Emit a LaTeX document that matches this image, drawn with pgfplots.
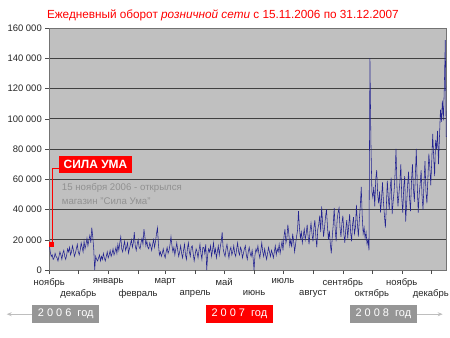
\documentclass[border=0pt]{standalone}
\usepackage{pgfplots}
\pgfplotsset{compat=1.18}
\usepackage{pgfplotstable}
\usepackage{fontspec}
\setmainfont{Liberation Sans}
\usetikzlibrary{arrows.meta}
\definecolor{bgray}{RGB}{192,192,192}
\definecolor{navy}{RGB}{35,35,145}
\definecolor{yeargray}{RGB}{150,150,150}
\definecolor{notegray}{RGB}{145,145,145}
\definecolor{arrowgray}{RGB}{190,190,190}

% daily turnover, thousands, from 15.11.2006 (row 0) to 31.12.2007 (row 411)
\pgfplotstableread[row sep=\\, header=false]{
17\\12\\9\\10\\7\\8\\11\\
9\\8\\6\\9\\12\\10\\7\\
11\\13\\9\\7\\10\\14\\12\\
15\\10\\12\\16\\13\\9\\11\\
14\\17\\12\\10\\13\\18\\15\\
12\\19\\14\\17\\21\\16\\20\\
23\\18\\28\\22\\14\\0\\
9\\7\\6\\8\\10\\6\\9\\
7\\11\\8\\6\\9\\12\\8\\
10\\13\\9\\11\\14\\10\\12\\
15\\11\\17\\13\\18\\22\\14\\
12\\16\\19\\13\\15\\18\\11\\
14\\17\\20\\15\\18\\25\\16\\
13\\17\\20\\15\\14\\18\\21\\
17\\27\\22\\16\\19\\15\\14\\
18\\16\\13\\17\\20\\15\\19\\
24\\28\\17\\10\\12\\9\\11\\
14\\10\\8\\12\\15\\11\\13\\
17\\22\\16\\12\\15\\10\\14\\
18\\13\\9\\12\\16\\11\\8\\
13\\17\\10\\7\\14\\18\\12\\
9\\15\\16\\11\\6\\10\\14\\
12\\8\\13\\17\\11\\7\\15\\
15\\11\\17\\0\\10\\14\\12\\
16\\9\\13\\18\\11\\14\\8\\
12\\16\\10\\15\\19\\25\\14\\
11\\9\\14\\17\\12\\8\\13\\
15\\10\\12\\16\\11\\9\\14\\
18\\12\\10\\15\\13\\8\\11\\
14\\16\\10\\7\\12\\15\\11\\
9\\13\\8\\0\\10\\14\\12\\
16\\11\\8\\13\\18\\12\\9\\
14\\10\\7\\11\\15\\12\\9\\
13\\11\\8\\12\\16\\10\\14\\
12\\17\\11\\15\\19\\13\\22\\
27\\18\\21\\30\\24\\16\\20\\
15\\24\\19\\12\\17\\22\\26\\
39\\28\\21\\25\\18\\23\\27\\
20\\24\\30\\22\\17\\26\\31\\
24\\19\\28\\33\\22\\15\\27\\
30\\36\\25\\42\\31\\22\\28\\
35\\40\\29\\20\\26\\17\\11\\
22\\30\\41\\27\\19\\33\\38\\
41\\28\\22\\31\\36\\24\\18\\
27\\33\\21\\29\\37\\25\\19\\
30\\35\\24\\28\\43\\31\\22\\
33\\42\\55\\36\\24\\28\\21\\
25\\17\\20\\13\\
140\\85\\52\\
48\\55\\42\\60\\66\\50\\44\\
52\\38\\47\\58\\45\\36\\28\\
42\\59\\48\\40\\54\\61\\37\\
45\\52\\63\\80\\55\\42\\50\\
58\\70\\47\\38\\55\\62\\32\\
44\\56\\65\\48\\39\\58\\70\\
54\\45\\62\\80\\56\\38\\50\\
57\\66\\48\\40\\58\\72\\52\\
44\\60\\77\\68\\56\\72\\90\\
75\\62\\86\\80\\92\\70\\88\\
106\\98\\112\\99\\120\\152\\88\\
}\sales

\begin{document}
\begin{tikzpicture}[x=1bp,y=1bp]
\useasboundingbox (0,0) rectangle (450,337);
\begin{axis}[at={(49.3bp,67bp)}, anchor=south west, scale only axis,
  width=397.4bp, height=242bp,
  xmin=0, xmax=411.5, ymin=0, ymax=160,
  axis background/.style={fill=bgray},
  axis line style={black!55, line width=0.6bp},
  ytick={0,20,...,160},
  yticklabels={0,20 000,40 000,60 000,80 000,100 000,120 000,140 000,160 000},
  ymajorgrids, grid style={black!75, line width=0.9bp},
  tick align=outside, ytick pos=left, xtick pos=bottom,
  major tick length=4bp,
  tick style={black!70, line width=0.5bp},
  yticklabel style={font=\fontsize{9.5}{10}\selectfont, text=black!85},
  xtick={0,61,120,181,242,304,365},
  xticklabels={ноябрь,январь,март,май,июль,сентябрь,ноябрь},
  extra x ticks={30,92,151,212,273,334,395},
  extra x tick labels={декабрь,февраль,апрель,июнь,август,октябрь,декабрь},
  extra x tick style={grid=none, xticklabel style={yshift=-11.5bp}},
  xticklabel style={font=\fontsize{9.5}{10}\selectfont, text=black!85, yshift=-1bp},
  clip mode=individual,
  /pgf/number format/assume math mode=true,
]
\addplot[navy, line width=0.55bp] table[x expr=\coordindex, y index=0] {\sales};
\addplot[only marks, mark=square*, mark size=2bp, red] coordinates {(1.5,17)};
\end{axis}
% callout
\draw[red, line width=0.8bp] (52.7,92.7) -- (52.7,168.7) -- (59.3,168.7);
\node[fill=red, text=white, font=\bfseries\fontsize{12}{13}\selectfont,
  minimum width=72.4bp, minimum height=17.3bp, inner sep=0pt] at (95.5,172.3) {СИЛА УМА};
\node[anchor=west, text=notegray, font=\fontsize{9.7}{10}\selectfont, inner sep=0pt]
  at (61.7,148.7) {15 ноября 2006 - открылся};
\node[anchor=west, text=notegray, font=\fontsize{9.7}{10}\selectfont, inner sep=0pt]
  at (61.7,136) {магазин "Сила Ума"};
% title
\node[text=red, font=\fontsize{11.8}{13}\selectfont] at (222.9,322)
  {Ежедневный оборот \textit{розничной сети} с 15.11.2006 по 31.12.2007};
% years
\draw[arrowgray, line width=0.8bp, -{Stealth[length=5bp,width=4bp]}] (32.3,22.8) -- (6.7,22.8);
\draw[arrowgray, line width=0.8bp, -{Stealth[length=5bp,width=4bp]}] (416.7,22.8) -- (442.7,22.8);
\node[fill=yeargray, text=white, minimum width=66.7bp, minimum height=18.3bp, inner sep=0pt,
  font=\fontsize{11}{12}\selectfont] at (65.7,22.8) {2 0 0 6 \ год};
\node[fill=red, text=white, minimum width=66.7bp, minimum height=18.3bp, inner sep=0pt,
  font=\fontsize{11}{12}\selectfont] at (239.35,22.8) {2 0 0 7 \ год};
\node[fill=yeargray, text=white, minimum width=66.7bp, minimum height=18.3bp, inner sep=0pt,
  font=\fontsize{11}{12}\selectfont] at (383.35,22.8) {2 0 0 8 \ год};
\end{tikzpicture}
\end{document}
